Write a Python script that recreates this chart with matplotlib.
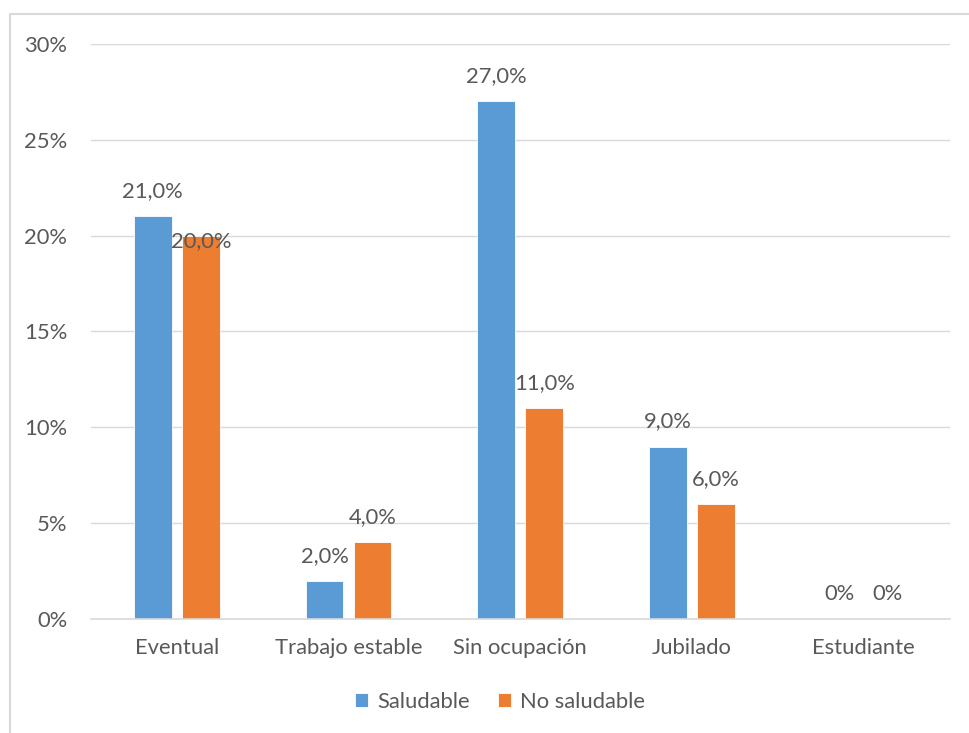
import matplotlib.pyplot as plt
import numpy as np
from matplotlib.patches import Rectangle
from matplotlib.ticker import FuncFormatter

categorias = ["Eventual", "Trabajo estable", "Sin ocupación", "Jubilado", "Estudiante"]
saludable = [21.0, 2.0, 27.0, 9.0, 0.0]
no_saludable = [20.0, 4.0, 11.0, 6.0, 0.0]
series = ["Saludable", "No saludable"]

azul = "#5B9BD5"
naranja = "#ED7D31"
gris_texto = "#595959"
tam = 15.8

plt.rcParams['font.family'] = ['Lato', 'DejaVu Sans']

fig = plt.figure(figsize=(9.69, 7.33), dpi=100)
ax = fig.add_axes([0.0939, 0.1555, 0.886, 0.7845])

# marco gris del area del grafico
fig.patches.append(Rectangle((10 / 969, -0.05), 1.2, 1 - 14 / 733 + 0.05,
                             transform=fig.transFigure, fill=False,
                             edgecolor="#d9d9d9", linewidth=1.5))

x = np.arange(len(categorias))
ancho = 0.22
desp = 0.14
b1 = ax.bar(x - desp, saludable, ancho, color=azul, edgecolor="white", linewidth=0.6,
            label=series[0], zorder=3)
b2 = ax.bar(x + desp, no_saludable, ancho, color=naranja, edgecolor="white", linewidth=0.6,
            label=series[1], zorder=3)


def etiqueta(v):
    return "0%" if v == 0 else f"{v:.1f}%".replace(".", ",")


for barras, valores in ((b1, saludable), (b2, no_saludable)):
    for rect, v in zip(barras, valores):
        dy = 18
        # Excel empuja hacia abajo la etiqueta que choca con la vecina
        if barras is b2 and v == 20.0:
            dy = -4
        ax.annotate(etiqueta(v), (rect.get_x() + rect.get_width() / 2, v),
                    xytext=(0, dy), textcoords="offset points",
                    ha="center", va="center", fontsize=tam, color=gris_texto, zorder=4)

ax.set_xlim(-0.5, len(categorias) - 0.5)
ax.set_ylim(0, 30)
ax.set_yticks(np.arange(0, 31, 5))
ax.yaxis.set_major_formatter(FuncFormatter(lambda v, p: f"{v:.0f}%"))
ax.set_xticks(x)
ax.set_xticklabels(categorias)
ax.tick_params(axis="both", length=0, labelsize=tam, colors=gris_texto)
ax.tick_params(axis="y", pad=17)
ax.tick_params(axis="x", pad=14)

ax.grid(axis="y", color="#d9d9d9", linewidth=1, zorder=0)
for s in ("top", "right", "left"):
    ax.spines[s].set_visible(False)
ax.spines["bottom"].set_color("#d9d9d9")
ax.spines["bottom"].set_linewidth(1.2)
ax.spines["bottom"].set_zorder(3.5)

fig.legend(handles=[b1, b2], labels=series, loc="center",
           bbox_to_anchor=(500 / 969, 1 - 702 / 733), ncol=2, frameon=False,
           fontsize=tam, labelcolor=gris_texto, handlelength=0.6, handleheight=0.6,
           handletextpad=0.4, columnspacing=1.3)

fig.savefig("out.png", dpi=100)
